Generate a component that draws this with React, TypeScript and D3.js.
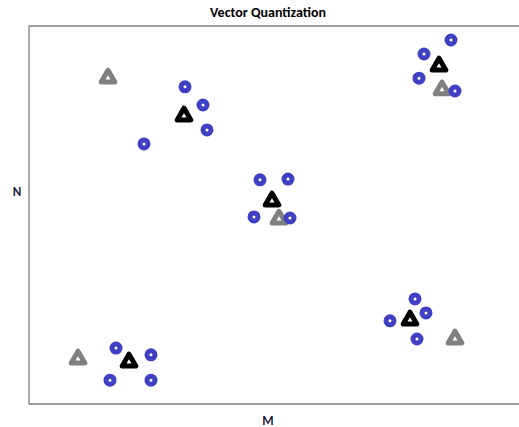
import React from "react";
import * as d3 from "d3";

const blueX = [31.2, 34.8, 35.6, 23.0, 84.4, 79.0, 78.0, 85.2, 46.2, 51.8, 45.0, 52.2, 77.2, 79.4, 72.2, 77.6, 17.4, 24.4, 16.2, 24.4];
const blueY = [83.9, 79.1, 72.5, 68.8, 96.3, 92.6, 86.2, 82.8, 59.3, 59.5, 49.5, 49.2, 27.8, 24.1, 22.0, 17.2, 14.8, 13.0, 6.3, 6.3];

const codeX = [31.0, 82.0, 48.6, 76.2, 20.0];
const codeY = [76.2, 89.4, 53.7, 22.2, 11.1];

const initX = [15.8, 82.6, 50.0, 85.2, 9.8];
const initY = [86.2, 83.1, 48.9, 17.2, 11.9];

const W = 519;
const H = 427;
const left = 29;
const top = 26;
const bottom = 404;

const x = d3.scaleLinear().domain([0, 100]).range([left, left + 500]);
const y = d3.scaleLinear().domain([0, 100]).range([bottom, bottom - 378]);

const tri = d3.symbol(d3.symbolTriangle, 80)() as string;
const font = "Calibri, Carlito, 'Liberation Sans', Arial, sans-serif";

export default function App() {
  return (
    <svg
      width={W}
      height={H}
      style={{ position: "absolute", left: 0, top: 0, background: "#fff" }}
    >
      <text x={268} y={17} textAnchor="middle" fontFamily={font} fontWeight="bold" fontSize={14} fill="#000">
        Vector Quantization
      </text>
      <path
        d={`M${W + 2},${top}H${left}V${bottom}H${W + 2}`}
        fill="none"
        stroke="#808080"
        strokeWidth={1.3}
      />
      <text x={17} y={196} textAnchor="middle" fontFamily={font} fontWeight="bold" fontSize={13} fill="#1a1a40">
        N
      </text>
      <text x={268} y={425} textAnchor="middle" fontFamily={font} fontWeight="bold" fontSize={13} fill="#1a1a40">
        M
      </text>
      {codeX.map((v, i) => (
        <path
          key={"c" + i}
          d={tri}
          transform={`translate(${x(v)},${y(codeY[i])})`}
          fill="#fff"
          stroke="#000"
          strokeWidth={5}
          strokeLinejoin="round"
        />
      ))}
      {initX.map((v, i) => (
        <path
          key={"g" + i}
          d={tri}
          transform={`translate(${x(v)},${y(initY[i])})`}
          fill="#fff"
          stroke="#808080"
          strokeWidth={5}
          strokeLinejoin="round"
        />
      ))}
      {blueX.map((v, i) => (
        <circle
          key={"b" + i}
          cx={x(v)}
          cy={y(blueY[i])}
          r={4}
          fill="#fff"
          stroke="#4040c4"
          strokeWidth={5}
        />
      ))}
    </svg>
  );
}
